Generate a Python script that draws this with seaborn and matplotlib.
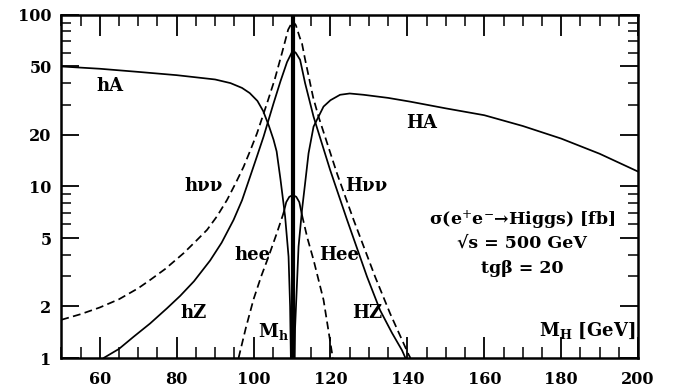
import numpy as np
import pandas as pd
import matplotlib
matplotlib.use("Agg")
import matplotlib.pyplot as plt
import seaborn as sns
from matplotlib.ticker import FixedLocator, NullFormatter

# ---- data (M in GeV, sigma in fb) ----
hA_m = [50, 60, 70, 80, 90, 94, 97, 99, 101, 102.5, 104, 105.2, 106, 107, 108.2, 109.1, 109.5, 109.7]
hA_s = [50, 48.5, 46.5, 44.5, 42, 40, 37.5, 35, 31.5, 27.5, 22.5, 18.7, 16, 11, 6.7, 3.9, 2.0, 1]

HA_m = [110.7, 110.8, 111.7, 112.6, 113.4, 114.3, 115.6, 118.2, 120, 122.5, 125, 128.6,
        135, 140.7, 150, 160, 170, 180, 190, 200]
HA_s = [1, 1.5, 4.46, 7.3, 10.4, 15.6, 22.3, 29.2, 31.8, 34.2, 34.8, 34.2,
        32.8, 31.2, 28.5, 26, 22.5, 19, 15.5, 12.2]

hnn_m = [50, 55, 60, 65, 70, 73.1, 77, 81.8, 85, 87.9, 90.5, 93.1, 95.3, 97.4, 99.2,
         100.9, 103.5, 105.5, 107.4, 109, 110.2]
hnn_s = [1.67, 1.8, 1.97, 2.2, 2.55, 2.85, 3.3, 4.08, 4.8, 5.58, 6.7, 8.34, 10.4, 13, 16.3,
         20.4, 30.5, 42, 60, 82, 92]

Hnn_m = [110.2, 111, 112, 112.6, 113.4, 115.5, 116.9, 121.7, 126, 131.6, 135.5, 140.3, 140.8]
Hnn_s = [92, 87, 74, 68, 55, 33, 25.5, 11.9, 6.4, 2.98, 1.82, 1.05, 1]

hZ_m = [61, 65, 68.8, 73.1, 77.5, 80.9, 84.5, 88.7, 91.7, 94.8, 97, 99.1, 100.9, 102.6,
        105.2, 107, 108.7, 110.2]
hZ_s = [1, 1.13, 1.33, 1.59, 1.95, 2.3, 2.8, 3.7, 4.7, 6.38, 8.3, 11.4, 15, 19.5,
        30.5, 41, 53, 62]

HZ_m = [110.2, 111, 112.1, 113.4, 115.6, 119.9, 124.3, 129.5, 132.9, 136, 138.6, 139.5]
HZ_s = [62, 60, 54.7, 40, 25.5, 12.5, 6.4, 2.98, 1.9, 1.4, 1.11, 1]

hee_m = [96.1, 98, 100, 102, 103.9, 106, 107.8]
hee_s = [1, 1.5, 2.2, 3.0, 3.9, 5.3, 7.0]

Hee_m = [112.6, 114, 115.6, 118.2, 120.4, 120.6]
Hee_s = [6.8, 5.0, 3.73, 2.18, 1.07, 1]

eetop_m = [107.8, 108.5, 109.3, 110.2, 111.1, 111.9, 112.6]
eetop_s = [7.0, 8.1, 8.7, 8.9, 8.7, 8.1, 6.8]

M_h = 110.2

x_ticks = [60, 80, 100, 120, 140, 160, 180, 200]
y_ticks = [1, 2, 5, 10, 20, 50, 100]
y_tick_labels = ["1", "2", "5", "10", "20", "50", "100"]

# ---- style ----
sns.set_style("ticks")
plt.rcParams["font.family"] = ["DejaVu Serif", "DejaVu Sans"]
plt.rcParams["mathtext.fontset"] = "dejavuserif"

fig = plt.figure(figsize=(6.81, 3.90), dpi=100)
ax = fig.add_axes([0.09, 0.082, 0.847, 0.880])

DASH = (0, (4.5, 2.5))

def curve(m, s, ls="-", lw=1.25):
    sns.lineplot(x=m, y=s, ax=ax, color="black", linestyle=ls, linewidth=lw,
                 sort=False, estimator=None)

curve(hA_m, hA_s)
curve(HA_m, HA_s)
curve(hZ_m, hZ_s)
curve(HZ_m, HZ_s)
curve(hnn_m, hnn_s, ls=DASH)
curve(Hnn_m, Hnn_s, ls=DASH)
curve(hee_m, hee_s, ls=DASH)
curve(Hee_m, Hee_s, ls=DASH)
curve(eetop_m, eetop_s)
ax.axvline(M_h, color="black", linewidth=3.0)

ax.set_yscale("log")
ax.set_xlim(50, 200)
ax.set_ylim(1, 100)
ax.set_xlabel("")
ax.set_ylabel("")

ax.xaxis.set_major_locator(FixedLocator(x_ticks))
ax.xaxis.set_minor_locator(FixedLocator([v for v in range(50, 201, 5) if v % 20 != 0]))
ax.yaxis.set_major_locator(FixedLocator(y_ticks))
ax.yaxis.set_minor_locator(FixedLocator([3, 4, 6, 7, 8, 9, 30, 40, 60, 70, 80, 90]))
ax.set_yticklabels(y_tick_labels)
ax.yaxis.set_minor_formatter(NullFormatter())
ax.set_xticklabels([str(v) for v in x_ticks])

for lab_ in ax.get_xticklabels() + ax.get_yticklabels():
    lab_.set_fontweight("bold")
    lab_.set_fontsize(11.5)

ax.tick_params(axis="x", which="major", direction="in", length=15, width=1.3,
               top=True, bottom=True, pad=9, colors="black")
ax.tick_params(axis="x", which="minor", direction="in", length=8, width=1.3,
               top=True, bottom=True)
ax.tick_params(axis="y", which="major", direction="in", length=13, width=1.3,
               left=True, right=True, pad=7, colors="black")
ax.tick_params(axis="y", which="minor", direction="in", length=7, width=1.3,
               left=True, right=True)
for sp in ax.spines.values():
    sp.set_visible(True)
    sp.set_linewidth(1.8)
    sp.set_color("black")

kw = dict(fontsize=13, fontweight="bold", ha="center", va="center", color="black")

def lab(mx, sy, s, **extra):
    d = dict(kw); d.update(extra)
    ax.text(mx, sy, s, **d)

lab(62.7, 38.5, "hA")
lab(143.8, 23.4, "HA")
lab(86.9, 10.0, "h\u03bd\u03bd")
lab(129.3, 10.0, "H\u03bd\u03bd")
lab(99.6, 4.0, "hee")
lab(122.2, 4.0, "Hee")
lab(84.3, 1.84, "hZ")
lab(129.6, 1.82, "HZ")
lab(105.1, 1.43, "M$_{\\mathbf{h}}$")
lab(186.7, 1.43, "M$_{\\mathbf{H}}$ [GeV]")
lab(169.8, 6.4, "\u03c3(e$^{+}$e$^{-}$\u2192Higgs) [fb]", fontsize=12.5)
lab(169.8, 4.65, "\u221as = 500 GeV", fontsize=12.5)
lab(169.8, 3.33, "tg\u03b2 = 20", fontsize=12.5)

fig.savefig("out.png", dpi=100, facecolor="white")
